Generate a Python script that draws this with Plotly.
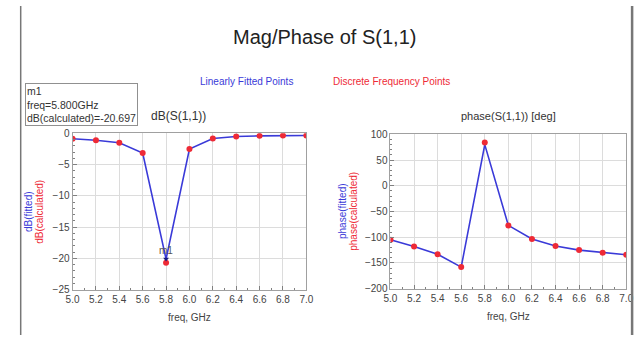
import plotly.graph_objects as go

freq = [5.0, 5.2, 5.4, 5.6, 5.8, 6.0, 6.2, 6.4, 6.6, 6.8, 7.0]
db_calc = [-0.86, -1.1, -1.5, -3.15, -20.697, -2.5, -0.82, -0.5, -0.4, -0.35, -0.35]
db_fit = [-0.86, -1.1, -1.5, -3.15, -20.1, -2.5, -0.82, -0.5, -0.4, -0.35, -0.35]
ph_calc = [-105, -118, -133, -158, 84, -77, -103.5, -117, -125, -130, -134]
ph_fit = [-105, -118, -133, -158, 80, -77, -103.5, -117, -125, -130, -134]
x_ticks = [5.0, 5.2, 5.4, 5.6, 5.8, 6.0, 6.2, 6.4, 6.6, 6.8, 7.0]

W, H = 644, 341
BLUE = "#3a3ad8"
RED = "#ee2a36"
FONT = "Liberation Sans, Arial, sans-serif"

def px(x):
    return x / W

def py(y):
    return 1 - y / H

fig = go.Figure()
fig.add_trace(go.Scatter(x=freq, y=db_fit, mode="lines", line=dict(color=BLUE, width=1.6),
                         xaxis="x", yaxis="y", showlegend=False))
fig.add_trace(go.Scatter(x=freq, y=db_calc, mode="markers", marker=dict(color=RED, size=6),
                         xaxis="x", yaxis="y", showlegend=False))
fig.add_trace(go.Scatter(x=[freq[4]], y=[db_fit[4]], mode="markers",
                         marker=dict(color="#1a1a80", size=5, symbol="triangle-down"),
                         xaxis="x", yaxis="y", showlegend=False))
fig.add_trace(go.Scatter(x=freq, y=ph_fit, mode="lines", line=dict(color=BLUE, width=1.6),
                         xaxis="x2", yaxis="y2", showlegend=False))
fig.add_trace(go.Scatter(x=freq, y=ph_calc, mode="markers", marker=dict(color=RED, size=6),
                         xaxis="x2", yaxis="y2", showlegend=False))

common_x = dict(range=[5.0, 7.0], tickvals=x_ticks, ticktext=[f"{v:.1f}" for v in x_ticks],
                showgrid=True, gridcolor="#dcdcdc", showline=True, linecolor="#a0a0a0",
                mirror=True, ticks="inside", ticklen=4, tickcolor="#808080",
                minor=dict(dtick=0.1, ticks="inside", ticklen=2, tickcolor="#808080", showgrid=False),
                tickfont=dict(size=10, color="#444", family=FONT), zeroline=False,
                title=dict(text="freq, GHz", font=dict(size=10, color="#444", family=FONT), standoff=10))
common_y = dict(showgrid=True, gridcolor="#dcdcdc", showline=True, linecolor="#a0a0a0",
                mirror=True, ticks="inside", ticklen=4, tickcolor="#808080",
                tickfont=dict(size=10, color="#444", family=FONT), zeroline=False)

fig.update_layout(
    width=W, height=H, margin=dict(l=0, r=0, t=0, b=0),
    paper_bgcolor="white", plot_bgcolor="white",
    xaxis=dict(domain=[px(67), px(306)], anchor="y", **common_x),
    yaxis=dict(domain=[py(294), py(132)], anchor="x", range=[-25, 0], dtick=5,
               minor=dict(dtick=1, ticks="inside", ticklen=2, tickcolor="#808080", showgrid=False),
               **common_y),
    xaxis2=dict(domain=[px(392), px(633)], anchor="y2", **common_x),
    yaxis2=dict(domain=[py(293), py(133)], anchor="x2", range=[-200, 100], dtick=50,
                minor=dict(dtick=10, ticks="inside", ticklen=2, tickcolor="#808080", showgrid=False),
                **common_y),
    showlegend=False,
)

ann = []
def text(x, y, s, size, color="#333", xanchor="center", textangle=0):
    ann.append(dict(x=px(x), y=py(y), xref="paper", yref="paper", text=s, showarrow=False,
                    font=dict(size=size, color=color, family=FONT), xanchor=xanchor,
                    yanchor="middle", textangle=textangle))

text(325, 32, "Mag/Phase of S(1,1)", 20, "#222")
text(245, 78, "Linearly Fitted Points", 10, BLUE)
text(393, 78, "Discrete Frequency Points", 10, RED)
text(175, 114, "dB(S(1,1))", 12, "#333")
text(513, 114, "phase(S(1,1)) [deg]", 11, "#333")
text(22, 213, "dB(fitted)", 10, BLUE, textangle=-90)
text(33, 213, "dB(calculated)", 10, RED, textangle=-90)
text(343, 213, "phase(fitted)", 10, BLUE, textangle=-90)
text(354, 213, "phase(calculated)", 10, RED, textangle=-90)
ann.append(dict(x=px(18), y=py(80), xref="paper", yref="paper",
                text="m1<br>freq=5.800GHz<br>dB(calculated)=-20.697", showarrow=False, align="left",
                xanchor="left", yanchor="top", font=dict(size=10.5, color="#333", family=FONT),
                bordercolor="#909090", borderwidth=1, borderpad=1, bgcolor="white"))
ann.append(dict(x=freq[4], y=db_fit[4], xref="x", yref="y", text="m1", showarrow=False,
                yshift=9, font=dict(size=10, color="#555", family=FONT)))
fig.update_layout(annotations=ann)

fig.update_layout(shapes=[
    dict(type="line", xref="paper", yref="paper", x0=px(14), x1=px(14), y0=0, y1=1,
         line=dict(color="#777", width=1.5)),
    dict(type="line", xref="paper", yref="paper", x0=px(639), x1=px(639), y0=0, y1=1,
         line=dict(color="#777", width=2.5)),
])

fig.write_html("out.html")
